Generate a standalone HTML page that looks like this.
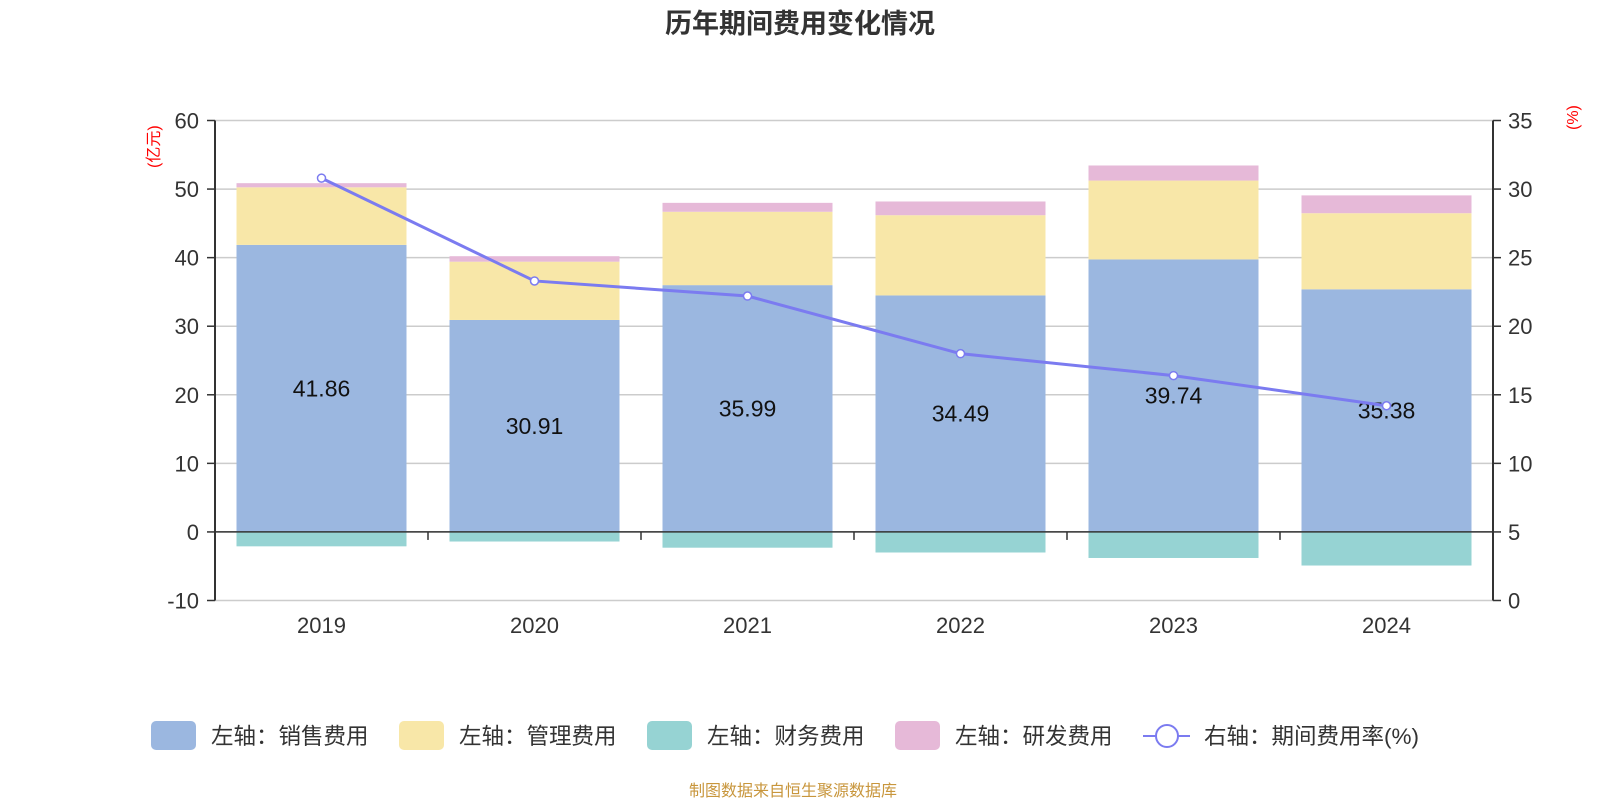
<!DOCTYPE html>
<html><head><meta charset="utf-8"><style>
body{margin:0;background:#fff;}
svg{display:block;font-family:"Liberation Sans","Noto Sans CJK SC",sans-serif;}
</style></head><body>
<svg id="c" width="1600" height="800"></svg>
<script>
const years=["2019","2020","2021","2022","2023","2024"];
const sales=[41.86,30.91,35.99,34.49,39.74,35.38];
const mgmt=[8.4,8.5,10.7,11.7,11.5,11.1];
const fin=[-2.1,-1.4,-2.3,-3.0,-3.8,-4.9];
const rd=[0.6,0.8,1.3,2.0,2.2,2.6];
const rate=[30.8,23.3,22.2,18.0,16.4,14.2];
const leftTicks=[-10,0,10,20,30,40,50,60];
const rightTicks=[0,5,10,15,20,25,30,35];

const NS="http://www.w3.org/2000/svg";
const svg=document.getElementById('c');
const X0=215,X1=1493,YT=120.5,YB=600.5;
const yL=v=>YB-(v+10)/70*(YB-YT);
const yR=v=>YB-v/35*(YB-YT);
const bw=(X1-X0)/years.length;
const xc=i=>X0+bw*(i+0.5);
function el(t,a,txt){const e=document.createElementNS(NS,t);for(const k in a)e.setAttribute(k,a[k]);if(txt!=null)e.textContent=txt;svg.appendChild(e);return e;}

let e=el('text',{x:800,y:33,'text-anchor':'middle','font-size':27,'font-weight':'bold',fill:'#333'},'历年期间费用变化情况');


leftTicks.forEach(v=>{
 e=el('line',{x1:X0,x2:X1,y1:yL(v),y2:yL(v),stroke:'#ccc','stroke-width':1.5});
 
 e=el('line',{x1:X0-8,x2:X0,y1:yL(v),y2:yL(v),stroke:'#333','stroke-width':1.5});
 
 e=el('text',{x:X0-16,y:yL(v)+8,'text-anchor':'end','font-size':22,fill:'#333'},v);
 
});
rightTicks.forEach(v=>{
 e=el('line',{x1:X1,x2:X1+8,y1:yR(v),y2:yR(v),stroke:'#333','stroke-width':1.5});
 
 e=el('text',{x:X1+15,y:yR(v)+8,'font-size':22,fill:'#333'},v);
 
});
e=el('line',{x1:X0,x2:X0,y1:YT,y2:YB,stroke:'#333','stroke-width':2});
e=el('line',{x1:X1,x2:X1,y1:YT,y2:YB,stroke:'#333','stroke-width':2});
e=el('text',{x:0,y:0,'font-size':16,fill:'red',transform:`translate(159,168) rotate(-90)`},'(亿元)');
e=el('text',{x:0,y:0,'font-size':16,fill:'red',transform:`translate(1578,130) rotate(-90)`},'(%)');

const BW=170;
years.forEach((y,i)=>{
 const x=xc(i)-BW/2;
 const s1=sales[i],s2=s1+mgmt[i],s3=s2+rd[i];
 e=el('rect',{x,y:yL(s1),width:BW,height:yL(0)-yL(s1),fill:'#9bb7e0'});
 e=el('rect',{x,y:yL(s2),width:BW,height:yL(s1)-yL(s2),fill:'#f8e7a8'});
 e=el('rect',{x,y:yL(s3),width:BW,height:yL(s2)-yL(s3),fill:'#e6b9d8'});
 e=el('rect',{x,y:yL(0),width:BW,height:yL(fin[i])-yL(0),fill:'#96d3d3'});
 e=el('text',{x:xc(i),y:yL(s1/2)+8,'text-anchor':'middle','font-size':23,fill:'#111'},sales[i].toFixed(2));
 e=el('text',{x:xc(i),y:633,'text-anchor':'middle','font-size':22,fill:'#333'},y);
});
e=el('line',{x1:X0,x2:X1,y1:yL(0),y2:yL(0),stroke:'#333','stroke-width':1.5});
for(let i=0;i<=years.length;i++){e=el('line',{x1:X0+bw*i,x2:X0+bw*i,y1:yL(0),y2:yL(0)+8,stroke:'#333','stroke-width':1.5});}

e=el('polyline',{points:rate.map((v,i)=>xc(i)+','+yR(v)).join(' '),fill:'none',stroke:'#7b7bf0','stroke-width':3});

rate.forEach((v,i)=>{e=el('circle',{cx:xc(i),cy:yR(v),r:4,fill:'#fff',stroke:'#7b7bf0','stroke-width':1.5});});

const leg=[["左轴：销售费用",'#9bb7e0',151],["左轴：管理费用",'#f8e7a8',399],["左轴：财务费用",'#96d3d3',647],["左轴：研发费用",'#e6b9d8',895]];
leg.forEach(l=>{
 e=el('rect',{x:l[2],y:721,width:45,height:29,rx:5,fill:l[1]});
 e=el('text',{x:l[2]+60,y:744,'font-size':22.5,fill:'#333'},l[0]);
});
e=el('line',{x1:1143,x2:1190,y1:736,y2:736,stroke:'#7b7bf0','stroke-width':2});
e=el('circle',{cx:1167,cy:736,r:11,fill:'#fff',stroke:'#7b7bf0','stroke-width':2});
e=el('text',{x:1204,y:744,'font-size':22.5,fill:'#333'},'右轴：期间费用率(%)');
e=el('text',{x:793,y:796,'text-anchor':'middle','font-size':16,fill:'#c8963c'},'制图数据来自恒生聚源数据库');
</script>
</body></html>
